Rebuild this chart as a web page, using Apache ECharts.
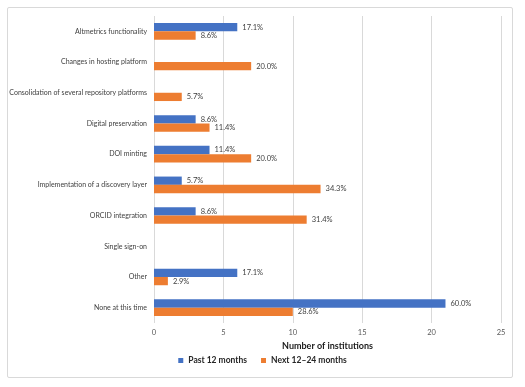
<!DOCTYPE html>
<html><head><meta charset="utf-8">
<script src="https://cdn.jsdelivr.net/npm/echarts@6/dist/echarts.min.js"></script>
<style>
html,body{margin:0;padding:0;background:#fff;}
#frame{position:absolute;left:7px;top:7px;width:504px;height:369px;border:1px solid #d9d9d9;border-radius:2px;}
#chart{position:absolute;left:0;top:0;width:525px;height:387px;}
</style></head>
<body>
<div id="frame"></div>
<div id="chart"></div>
<script>
const categories = ["Altmetrics functionality","Changes in hosting platform","Consolidation of several repository platforms","Digital preservation","DOI minting","Implementation of a discovery layer","ORCID integration","Single sign-on","Other","None at this time"];
const pastValues = [6,0,0,3,4,2,3,0,6,21];
const nextValues = [3,7,2,4,7,12,11,0,1,10];
const pastLabels = ["17.1%","","","8.6%","11.4%","5.7%","8.6%","","17.1%","60.0%"];
const nextLabels = ["8.6%","20.0%","5.7%","11.4%","20.0%","34.3%","31.4%","","2.9%","28.6%"];
const xTicks = [0,5,10,15,20,25];
const seriesNames = ["Past 12 months","Next 12\u201324 months"];

const FONT = "Lato, 'Liberation Sans', Arial, sans-serif";
const chart = echarts.init(document.getElementById('chart'));
function lbl(arr){
  return {show:true, position:'right', distance:5, fontSize:7.5, color:'#404040', fontFamily:FONT,
    formatter: p => arr[p.dataIndex]};
}
chart.setOption({
  animation:false,
  textStyle:{fontFamily:FONT},
  grid:{left:154, right:24, top:16, bottom:64, containLabel:false, outerBoundsMode:'none'},
  legend:{bottom:17, left:'center', itemWidth:5, itemHeight:5, itemGap:14,
    icon:'rect', data:seriesNames,
    textStyle:{fontSize:8.5, fontWeight:'bold', color:'#262626', fontFamily:FONT}},
  xAxis:{type:'value', min:xTicks[0], max:xTicks[xTicks.length-1], interval:5,
    axisLine:{show:false}, axisTick:{show:false},
    splitLine:{lineStyle:{color:'#d9d9d9', width:1}},
    axisLabel:{fontSize:7.5, color:'#595959', margin:6, fontFamily:FONT},
    name:'Number of institutions', nameLocation:'middle', nameGap:17,
    nameTextStyle:{fontSize:9, fontWeight:'bold', color:'#1a1a1a', fontFamily:FONT}},
  yAxis:{type:'category', data:categories, inverse:true,
    axisLine:{show:false}, axisTick:{show:false},
    axisLabel:{fontSize:7, color:'#404040', margin:7, fontFamily:FONT}},
  series:[
    {name:seriesNames[0], type:'bar', data:pastValues, barGap:'0%', barCategoryGap:'46%',
      itemStyle:{color:'#4472C4'}, label:lbl(pastLabels)},
    {name:seriesNames[1], type:'bar', data:nextValues, barGap:'0%', barCategoryGap:'46%',
      itemStyle:{color:'#ED7D31'}, label:lbl(nextLabels)}
  ]
});
</script>
</body></html>
